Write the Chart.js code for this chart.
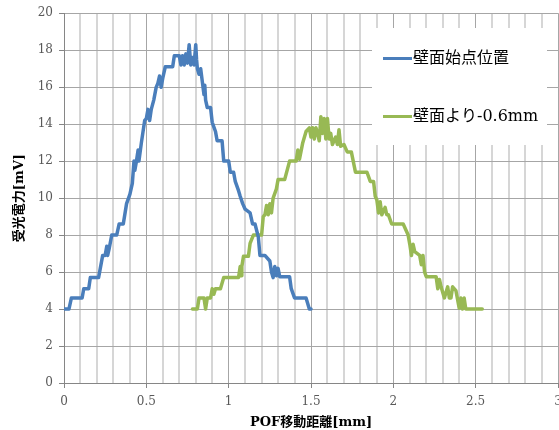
<!DOCTYPE html>
<html>
<head>
<meta charset="utf-8">
<script src="https://cdn.jsdelivr.net/npm/chart.js@4/dist/chart.umd.min.js"></script>
<style>
  html, body { margin: 0; padding: 0; background: #fff; }
</style>
</head>
<body>
<canvas id="chart" width="559" height="430"></canvas>
<script>
// Series labels
const seriesNames = ['壁面始点位置', '壁面より-0.6mm'];

// 壁面始点位置 (blue)
const blueX = [0.00, 0.03, 0.045, 0.11, 0.12, 0.15, 0.16, 0.21, 0.235, 0.25, 0.26, 0.265, 0.275, 0.29, 0.32,
    0.335, 0.36, 0.38, 0.40, 0.415, 0.425, 0.43, 0.44, 0.45, 0.455, 0.47, 0.49, 0.50, 0.51, 0.52, 0.53,
    0.545, 0.56, 0.57, 0.58, 0.59, 0.60, 0.615, 0.66, 0.67, 0.70, 0.71, 0.72, 0.73, 0.74, 0.75, 0.76,
    0.77, 0.78, 0.79, 0.80, 0.805, 0.81, 0.82, 0.83, 0.84, 0.85, 0.855, 0.86, 0.87, 0.89, 0.90, 0.92,
    0.93, 0.96, 0.97, 1.00, 1.01, 1.03, 1.04, 1.06, 1.07, 1.085, 1.10, 1.13, 1.145, 1.16, 1.18, 1.19,
    1.22, 1.25, 1.26, 1.27, 1.28, 1.29, 1.30, 1.31, 1.37, 1.38, 1.40, 1.47, 1.49, 1.50];
const blueY = [4.0, 4.0, 4.6, 4.6, 5.1, 5.1, 5.7, 5.7, 6.9, 6.9, 7.4, 6.9, 7.3, 8.0, 8.0,
    8.6, 8.6, 9.7, 10.2, 10.8, 12.0, 11.5, 12.0, 12.6, 12.0, 13.0, 14.2, 14.3, 14.8, 14.2, 14.8,
    15.3, 16.0, 16.2, 16.6, 16.0, 16.5, 17.1, 17.1, 17.7, 17.7, 17.2, 17.7, 17.2, 17.8, 17.3, 18.3,
    17.2, 17.6, 17.2, 18.3, 17.5, 17.0, 16.7, 17.0, 16.3, 15.6, 16.1, 15.3, 14.9, 14.9, 14.1, 13.6,
    13.1, 13.1, 12.0, 12.0, 11.4, 11.4, 10.9, 10.4, 10.1, 9.7, 9.4, 9.2, 8.6, 8.6, 7.9, 6.9,
    6.9, 6.6, 6.0, 5.7, 6.3, 5.8, 6.2, 5.75, 5.75, 5.1, 4.6, 4.6, 4.0, 4.0];

// 壁面より-0.6mm (green)
const greenX = [0.78, 0.81, 0.82, 0.85, 0.86, 0.87, 0.89, 0.90, 0.91, 0.92, 0.95, 0.97, 1.06, 1.07, 1.075,
    1.08, 1.09, 1.12, 1.13, 1.15, 1.20, 1.21, 1.22, 1.23, 1.24, 1.25, 1.26, 1.27, 1.29, 1.30, 1.34,
    1.37, 1.41, 1.42, 1.43, 1.45, 1.47, 1.49, 1.50, 1.51, 1.52, 1.53, 1.54, 1.55, 1.56, 1.57, 1.58,
    1.59, 1.60, 1.61, 1.62, 1.63, 1.65, 1.66, 1.67, 1.68, 1.70, 1.72, 1.745, 1.77, 1.84, 1.86, 1.88,
    1.89, 1.90, 1.91, 1.92, 1.93, 1.95, 1.96, 1.97, 1.99, 2.06, 2.09, 2.10, 2.11, 2.12, 2.13, 2.16,
    2.17, 2.18, 2.19, 2.20, 2.26, 2.27, 2.28, 2.29, 2.31, 2.33, 2.34, 2.35, 2.36, 2.38, 2.40, 2.41,
    2.42, 2.43, 2.44, 2.54];
const greenY = [4.0, 4.0, 4.6, 4.6, 4.0, 4.6, 4.6, 5.1, 4.8, 5.1, 5.1, 5.7, 5.7, 6.3, 5.8,
    6.3, 6.85, 6.85, 7.55, 8.0, 8.0, 9.0, 9.1, 9.6, 9.1, 9.7, 9.2, 10.0, 10.5, 11.0, 11.0,
    12.0, 12.0, 12.6, 12.1, 13.0, 13.6, 13.8, 13.3, 13.8, 13.2, 13.8, 13.5, 13.1, 14.4, 13.5, 14.3,
    13.2, 14.3, 13.2, 13.5, 12.9, 13.3, 12.9, 13.7, 12.8, 12.9, 12.5, 12.5, 11.4, 11.4, 10.9, 10.9,
    10.1, 9.9, 9.2, 9.8, 9.1, 9.5, 9.1, 9.1, 8.6, 8.6, 8.0, 7.5, 6.9, 7.5, 7.1, 6.9,
    6.4, 6.9, 6.0, 5.75, 5.75, 5.1, 5.6, 5.2, 4.6, 5.2, 4.6, 4.6, 5.2, 5.0, 4.05, 4.6,
    4.0, 4.6, 4.0, 4.0];

const seriesColors = ['#4a7ebb', '#98b954'];

const toPoints = (xs, ys) => xs.map((x, i) => ({ x: x, y: ys[i] }));

const serifFont = '"DejaVu Serif", "Noto Sans CJK JP", serif';
const isMajorX = v => Math.round(v * 10) % 5 === 0;

// legend drawn inside the plot on a white box
const insideLegend = {
    id: 'insideLegend',
    afterDatasetsDraw(chart) {
        const ctx = chart.ctx;
        ctx.save();
        ctx.fillStyle = '#ffffff';
        ctx.fillRect(372, 28, 175, 117);
        const rows = [58.5, 116.5];
        chart.data.datasets.forEach((ds, i) => {
            ctx.strokeStyle = ds.borderColor;
            ctx.lineWidth = 3;
            ctx.beginPath();
            ctx.moveTo(383, rows[i]);
            ctx.lineTo(412, rows[i]);
            ctx.stroke();
            ctx.fillStyle = '#000';
            ctx.font = '16px ' + serifFont;
            ctx.textBaseline = 'middle';
            ctx.fillText(ds.label, 413, rows[i]);
        });
        ctx.restore();
    }
};

new Chart(document.getElementById('chart'), {
    type: 'line',
    data: {
        datasets: [
            {
                label: seriesNames[0],
                data: toPoints(blueX, blueY),
                borderColor: seriesColors[0],
                borderWidth: 3.5,
                pointRadius: 0,
                tension: 0,
                borderJoinStyle: 'round',
                borderCapStyle: 'round'
            },
            {
                label: seriesNames[1],
                data: toPoints(greenX, greenY),
                borderColor: seriesColors[1],
                borderWidth: 3.5,
                pointRadius: 0,
                tension: 0,
                borderJoinStyle: 'round',
                borderCapStyle: 'round'
            }
        ]
    },
    options: {
        responsive: false,
        animation: false,
        layout: { padding: { top: 13, right: 1, left: 0, bottom: 0 } },
        plugins: {
            legend: { display: false },
            tooltip: { enabled: false }
        },
        scales: {
            x: {
                type: 'linear',
                min: 0,
                max: 3,
                afterFit: s => {
                    s.height = 47;
                    s.paddingLeft = 0;
                    s.paddingRight = 0;
                },
                ticks: {
                    stepSize: 0.1,
                    autoSkip: false,
                    maxRotation: 0,
                    padding: 7,
                    color: '#595959',
                    font: { family: serifFont, size: 12 },
                    callback: v => isMajorX(v) ? String(Math.round(v * 10) / 10) : ''
                },
                grid: {
                    color: c => isMajorX(c.tick.value) ? '#a6a6a6' : '#d6d6d6',
                    lineWidth: c => isMajorX(c.tick.value) ? 1 : 2,
                    tickColor: c => isMajorX(c.tick.value) ? '#868686' : 'rgba(0,0,0,0)',
                    tickLength: 5
                },
                border: { color: '#868686' },
                title: {
                    display: true,
                    text: 'POF移動距離[mm]',
                    color: '#000',
                    font: { family: serifFont, size: 13, weight: 'bold' },
                    padding: { top: 0, bottom: 0 }
                }
            },
            y: {
                min: 0,
                max: 20,
                afterFit: s => { s.width = 64; },
                ticks: {
                    stepSize: 2,
                    padding: 6,
                    color: '#595959',
                    font: { family: serifFont, size: 12 }
                },
                grid: {
                    color: '#a6a6a6',
                    tickColor: '#868686',
                    tickLength: 5
                },
                border: { color: '#868686' },
                title: {
                    display: true,
                    text: '受光電力[mV]',
                    color: '#000',
                    font: { family: serifFont, size: 13, weight: 'bold' },
                    padding: { top: 12, bottom: 0 }
                }
            }
        }
    },
    plugins: [insideLegend]
});
</script>
</body>
</html>
